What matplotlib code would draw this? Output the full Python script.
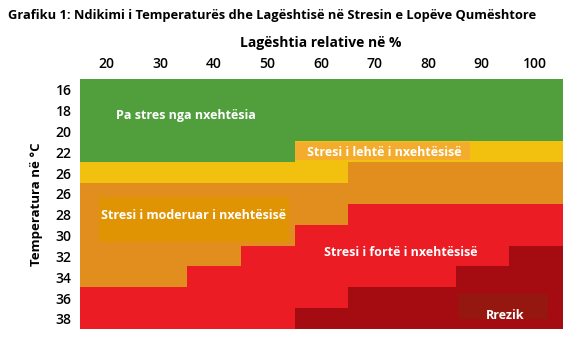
import matplotlib.pyplot as plt
from matplotlib.colors import ListedColormap
from matplotlib.patches import Rectangle
import numpy as np

plt.rcParams['font.family'] = ['Open Sans', 'DejaVu Sans']

humidity = [20, 30, 40, 50, 60, 70, 80, 90, 100]
temp_labels = ["16", "18", "20", "22", "26", "26", "28", "30", "32", "34", "36", "38"]

# 0 = no stress, 1 = light, 2 = moderate, 3 = strong, 4 = danger
stress_levels = [
    [0, 0, 0, 0, 0, 0, 0, 0, 0],
    [0, 0, 0, 0, 0, 0, 0, 0, 0],
    [0, 0, 0, 0, 0, 0, 0, 0, 0],
    [0, 0, 0, 0, 1, 1, 1, 1, 1],
    [1, 1, 1, 1, 1, 2, 2, 2, 2],
    [2, 2, 2, 2, 2, 2, 2, 2, 2],
    [2, 2, 2, 2, 2, 3, 3, 3, 3],
    [2, 2, 2, 2, 3, 3, 3, 3, 3],
    [2, 2, 2, 3, 3, 3, 3, 3, 4],
    [2, 2, 3, 3, 3, 3, 3, 4, 4],
    [3, 3, 3, 3, 3, 4, 4, 4, 4],
    [3, 3, 3, 3, 4, 4, 4, 4, 4],
]

level_colors = ["#509E3C", "#F2C00E", "#E28E1F", "#EC1C24", "#A50C12"]

fig = plt.figure(figsize=(5.82, 3.41), dpi=100)
ax = fig.add_axes([80 / 582, (341 - 329.3) / 341, 482 / 582, 250 / 341])

grid = np.array(stress_levels)
ax.imshow(grid, cmap=ListedColormap(level_colors), vmin=-0.5, vmax=4.5,
          aspect="auto", interpolation="nearest")

# label backing boxes
ax.add_patch(Rectangle((-0.15, 5.15), 3.55, 2.16, color="#E09404", lw=0))
ax.add_patch(Rectangle((3.51, 2.51), 3.27, 0.86, color="#F3AC2C", lw=0))
ax.add_patch(Rectangle((6.56, 9.8), 1.68, 1.2, color="#951710", lw=0))

txt = dict(color="white", fontsize=9, fontweight="bold", ha="center", va="center")
ax.text(1.48, 1.26, "Pa stres nga nxehtësia", **txt)
ax.text(5.18, 3.0, "Stresi i lehtë i nxehtësisë", **txt)
ax.text(1.61, 6.06, "Stresi i moderuar i nxehtësisë", **txt)
ax.text(5.49, 7.79, "Stresi i fortë i nxehtësisë", **txt)
ax.text(7.44, 10.83, "Rrezik", **txt)

ax.set_xticks(range(len(humidity)))
ax.set_xticklabels([str(h) for h in humidity], fontsize=10, fontweight="semibold")
ax.xaxis.tick_top()
ax.set_yticks(range(len(temp_labels)))
ax.set_yticklabels(temp_labels, fontsize=10, fontweight="semibold")
ax.tick_params(length=0, pad=6)
for s in ax.spines.values():
    s.set_visible(False)

ax.set_xlabel("Lagështia relative në %", fontsize=10, fontweight="bold", labelpad=7)
ax.xaxis.set_label_position("top")
ax.set_ylabel("Temperatura në °C", fontsize=9.5, fontweight="bold", labelpad=9)

fig.text(8 / 582, 1 - 16 / 341, "Grafiku 1: Ndikimi i Temperaturës dhe Lagështisë në Stresin e Lopëve Qumështore",
         fontsize=9.3, fontweight="bold", va="center", ha="left")

fig.savefig("out.png", dpi=100)
